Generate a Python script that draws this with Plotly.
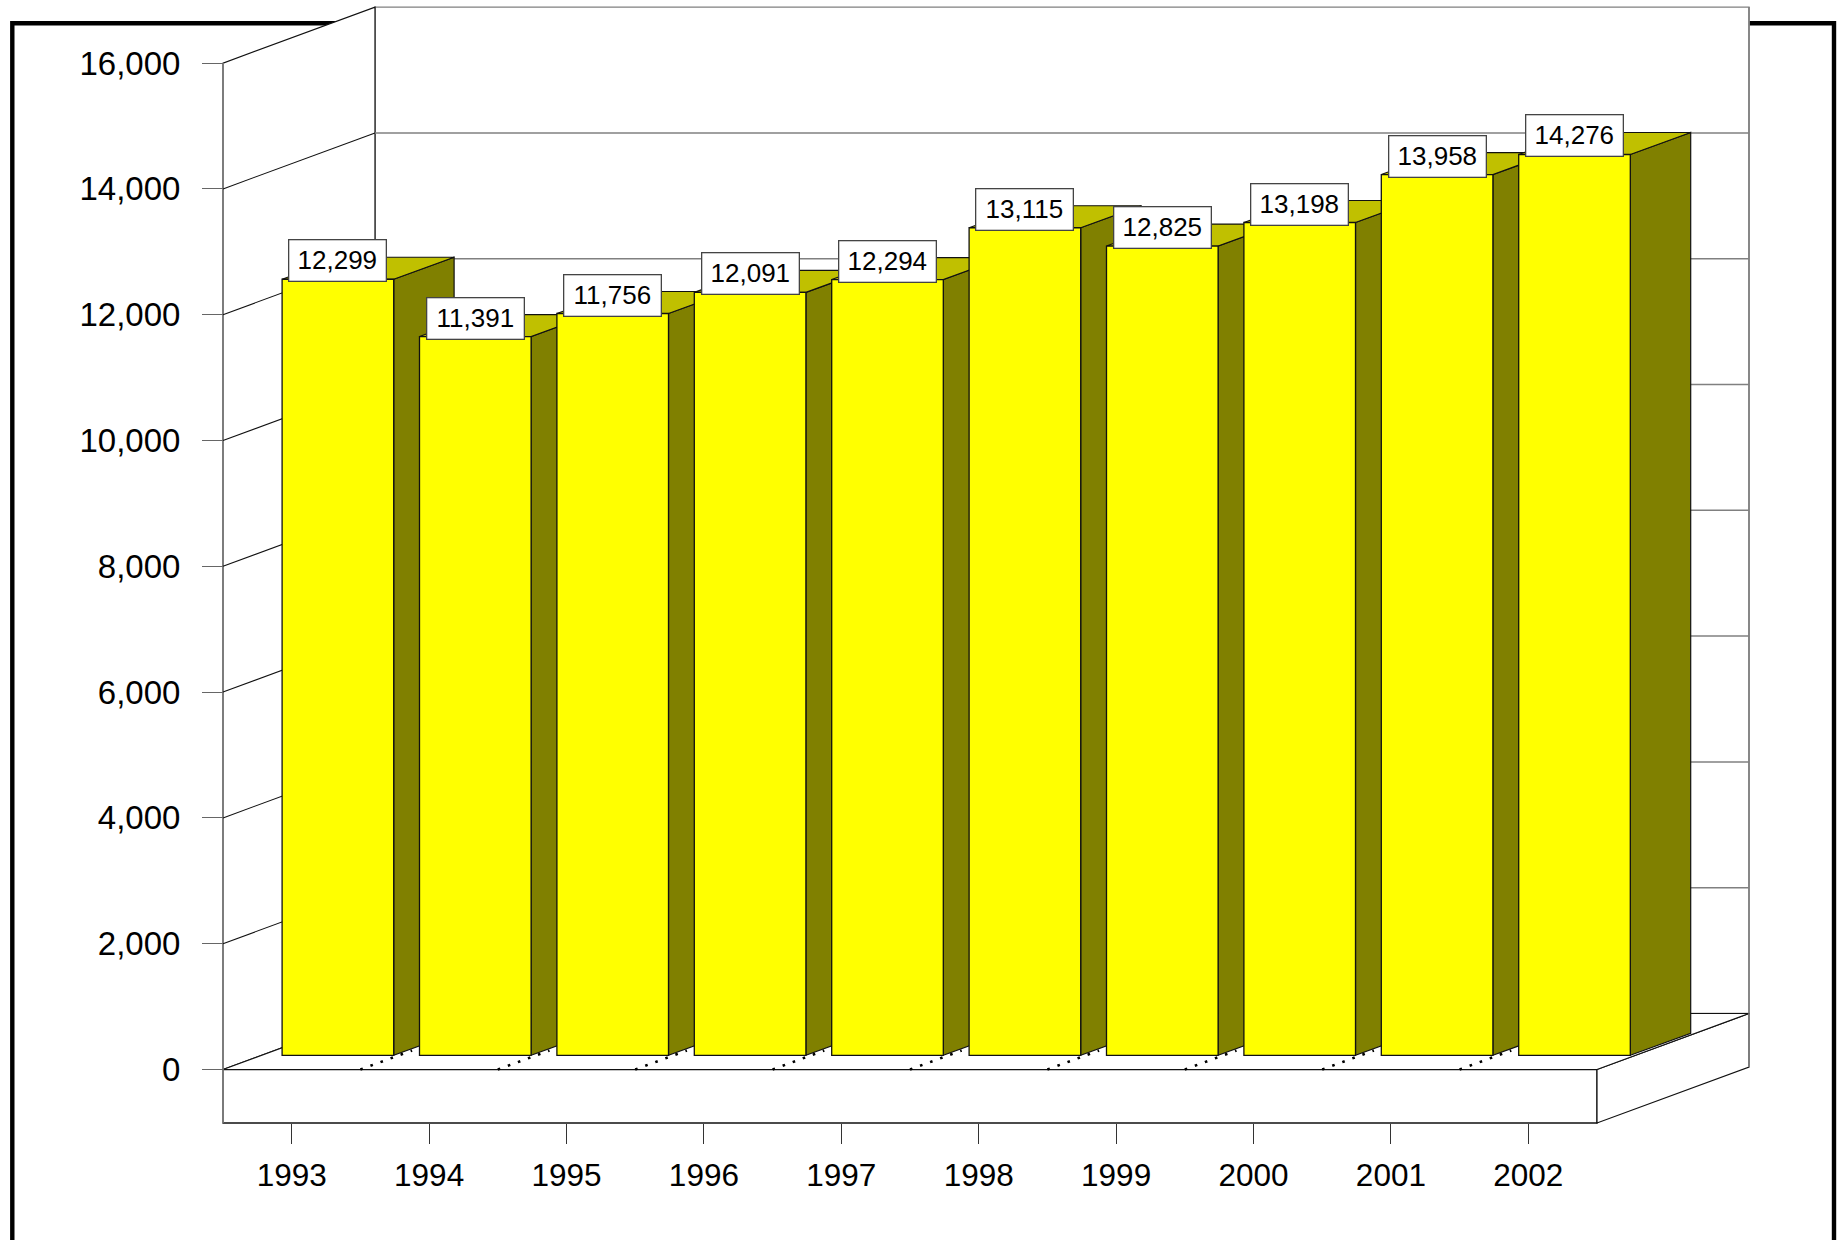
import plotly.graph_objects as go

# ---------- data ----------
years = ["1993", "1994", "1995", "1996", "1997", "1998", "1999", "2000", "2001", "2002"]
values = [12299, 11391, 11756, 12091, 12294, 13115, 12825, 13198, 13958, 14276]
y_ticks = [0, 2000, 4000, 6000, 8000, 10000, 12000, 14000, 16000]

# ---------- scale and oblique projection ----------
W, H = 1839, 1240
STEP = 137.4           # px per category
X0 = 291.7             # px of first category
Y0 = 1069.5            # px of value 0 on the front edge of the floor
S = 0.0629             # px per value unit on the axis plane
BAR_Y0 = 1055.3        # px of value 0 in the plane of the bar fronts
BAR_S = 0.0631         # px per value unit in the plane of the bar fronts
WALL_DX = 152 / STEP
WALL_DY = 56 / S
SLAB = 53.5 / S
BAR_SHIFT = 46.2 / STEP
BAR_W = 111.6 / STEP
BAR_DX = 60.4 / STEP
BAR_DY = 22 / BAR_S
XL, XR = -0.5, len(years) - 0.5
YT = y_ticks[-1]

GRAY = "#808080"
DARK = "#111111"
idx = list(range(len(years)))

fig = go.Figure()


def poly(xs, ys, fill=None, color=DARK, width=1.0, z=1, dash=None, yaxis="y"):
    fig.add_trace(go.Scatter(
        x=xs, y=ys, yaxis=yaxis, mode="lines", zorder=z, hoverinfo="skip", showlegend=False,
        fill="toself" if fill else None, fillcolor=fill,
        line=dict(color=color, width=width, dash=dash),
    ))


# walls, floor, slab (white fills hide the frame behind them)
poly([XL + WALL_DX, XR + WALL_DX, XR + WALL_DX, XL + WALL_DX, XL + WALL_DX],
     [WALL_DY, WALL_DY, YT + WALL_DY, YT + WALL_DY, WALL_DY], fill="#FFFFFF", color=GRAY, width=1.4)
poly([XL, XL + WALL_DX, XL + WALL_DX, XL, XL],
     [0, WALL_DY, YT + WALL_DY, YT, 0], fill="#FFFFFF", color=DARK, width=1.2)
poly([XL, XR, XR, XL, XL], [0, 0, -SLAB, -SLAB, 0], fill="#FFFFFF", color=DARK, width=1.3)
poly([XR, XR + WALL_DX, XR + WALL_DX, XR, XR],
     [0, WALL_DY, WALL_DY - SLAB, -SLAB, 0], fill="#FFFFFF", color=DARK, width=1.2)
poly([XL, XR, XR + WALL_DX, XL + WALL_DX, XL], [0, 0, WALL_DY, WALL_DY, 0], fill="#FFFFFF", color=DARK, width=1.2)
# the grey verticals
poly([XL, XL], [YT, -SLAB], color=GRAY, width=1.6)
poly([XR + WALL_DX, XR + WALL_DX], [WALL_DY, WALL_DY - SLAB], color=GRAY, width=1.6)
poly([XR + WALL_DX, XR + WALL_DX], [WALL_DY, YT + WALL_DY], color=GRAY, width=1.6)

# gridlines on both walls
for t in y_ticks[1:-1]:
    poly([XL, XL + WALL_DX], [t, t + WALL_DY], color=DARK, width=1.1)
    poly([XL + WALL_DX, XR + WALL_DX], [t + WALL_DY, t + WALL_DY], color=GRAY, width=1.5)

# dotted category dividers on the floor
for k in idx[1:]:
    poly([XL + k, XL + k + 0.34 * WALL_DX], [0, 0.34 * WALL_DY], color="#000000", width=2.6, dash="2.6px,8.1px")

# bar tops and sides
for i, v in zip(idx, values):
    l = i + BAR_SHIFT - BAR_W / 2
    r = i + BAR_SHIFT + BAR_W / 2
    poly([r, r + BAR_DX, r + BAR_DX, r, r],
         [0, BAR_DY, v + BAR_DY, v, 0],
         fill="#808000", color=DARK, width=1.2, z=2, yaxis="y2")
    poly([l, r, r + BAR_DX, l + BAR_DX, l],
         [v, v, v + BAR_DY, v + BAR_DY, v],
         fill="#C0C000", color=DARK, width=1.2, z=2, yaxis="y2")

# bar fronts
fig.add_trace(go.Bar(
    x=[i + BAR_SHIFT for i in idx], y=values, yaxis="y2", width=BAR_W, zorder=3,
    marker=dict(color="#FFFF00", line=dict(color=DARK, width=1.3)),
    hoverinfo="skip", showlegend=False,
))

# value labels
annotations = [
    dict(x=i + BAR_SHIFT, y=v, xref="x", yref="y2", text=f"{v:,}", showarrow=False,
         xanchor="center", yanchor="bottom", yshift=-3, width=94, height=38, borderpad=1,
         bgcolor="#FFFFFF", bordercolor="#444444", borderwidth=1.3,
         font=dict(family="Liberation Sans", size=26, color="#000000"))
    for i, v in zip(idx, values)
]

# slide frame (open at the bottom of the page)
frame = dict(type="rect", xref="paper", yref="paper", layer="below",
             x0=12.3 / W, x1=1834 / W, y0=-0.05, y1=1 - 23.2 / H,
             line=dict(color="#000000", width=4.4), fillcolor="rgba(0,0,0,0)")

fig.update_layout(
    width=W, height=H, margin=dict(l=0, r=0, t=0, b=0), autosize=False,
    paper_bgcolor="#FFFFFF", plot_bgcolor="rgba(0,0,0,0)", barmode="overlay",
    showlegend=False, hovermode=False, shapes=[frame], annotations=annotations,
    font=dict(family="Liberation Sans", color="#000000"),
    xaxis=dict(
        range=[-X0 / STEP, (W - X0) / STEP], domain=[0, 1], anchor="free",
        position=(H - (Y0 + SLAB * S)) / H, side="bottom", showgrid=False, zeroline=False, showline=False,
        tickmode="array", tickvals=idx, ticktext=years, ticks="outside", ticklen=20, tickwidth=1.2,
        tickcolor="#333333", tickfont=dict(size=31.5, family="Liberation Sans", color="#000000"),
        ticklabelstandoff=4,
    ),
    yaxis=dict(
        range=[(Y0 - H) / S, Y0 / S], domain=[0, 1], anchor="free",
        position=(X0 - 0.5 * STEP) / W, side="left", showgrid=False, zeroline=False, showline=False,
        tickmode="array", tickvals=y_ticks, ticktext=[f"{t:,}" for t in y_ticks], ticks="outside",
        ticklen=21, tickwidth=1.3, tickcolor="#666666",
        tickfont=dict(size=33, family="Liberation Sans", color="#000000"), ticklabelstandoff=15,
    ),
    yaxis2=dict(
        range=[(BAR_Y0 - H) / BAR_S, BAR_Y0 / BAR_S], domain=[0, 1], overlaying="y", anchor="x",
        visible=False,
    ),
)

fig.write_html("out.html", config={"displayModeBar": False},
               post_script="document.body.style.margin='0';document.body.style.overflow='hidden';")
